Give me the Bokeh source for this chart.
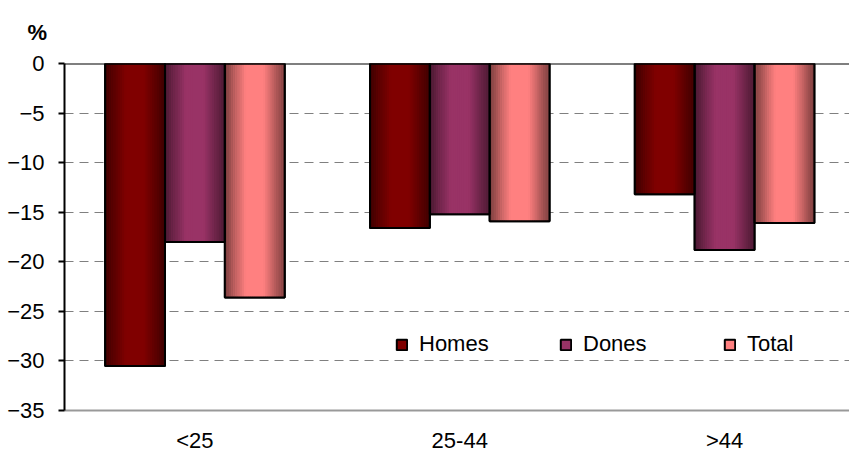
import numpy as np
from bokeh.plotting import figure
from bokeh.models import (Range1d, FixedTicker, Span, Legend, LegendItem,
                          ColumnDataSource)
from bokeh.embed import file_html
from bokeh.resources import INLINE

# ---- data ----
categories = ["<25", "25-44", ">44"]
homes = [-30.5, -16.6, -13.2]
dones = [-18.0, -15.2, -18.8]
total = [-23.6, -15.9, -16.1]
series_names = ["Homes", "Dones", "Total"]
series_colors = ["#800000", "#993366", "#ff8080"]
y_ticks = [0, -5, -10, -15, -20, -25, -30, -35]

series_values = [homes, dones, total]

FONT = "Liberation Sans"
bar_w = 0.226
N = 28
edge_k = 0.48


def shade(hexc, k):
    rgb = [int(hexc[i:i + 2], 16) for i in (1, 3, 5)]
    return "#%02x%02x%02x" % tuple(min(255, int(round(c * k))) for c in rgb)


x_pos = list(range(len(categories)))

p = figure(width=849, height=455,
           x_range=Range1d(-0.4925, 2.4717), y_range=Range1d(-35, 0),
           output_backend="svg", toolbar_location=None,
           min_border_left=64, min_border_right=0,
           min_border_top=63, min_border_bottom=45)
p.outline_line_color = None
p.background_fill_color = "white"

# unit label as title
p.title.text = "%"
p.title.align = "left"
p.title.offset = -37
p.title.standoff = 34
p.title.vertical_align = "top"
p.title.text_font = FONT
p.title.text_font_size = "22px"
p.title.text_font_style = "bold"
p.title.text_color = "black"

# grid
p.xgrid.visible = False
p.ygrid.grid_line_color = "#808080"
p.ygrid.grid_line_dash = "9 6"
p.ygrid.grid_line_width = 1

# y axis
p.yaxis.ticker = FixedTicker(ticks=y_ticks)
p.yaxis.axis_line_color = "black"
p.yaxis.axis_line_width = 2
p.yaxis.major_tick_out = 6
p.yaxis.major_tick_in = 0
p.yaxis.major_tick_line_width = 2
p.yaxis.minor_tick_out = 0
p.yaxis.minor_tick_in = 0
p.yaxis.major_label_standoff = 14
p.yaxis.major_label_text_font = FONT
p.yaxis.major_label_text_font_size = "22px"
p.yaxis.major_label_text_color = "black"

# x axis
p.xaxis.ticker = FixedTicker(ticks=x_pos)
p.xaxis.major_label_overrides = {i: c for i, c in zip(x_pos, categories)}
p.xaxis.axis_line_color = "#999999"
p.xaxis.axis_line_width = 2
p.xaxis.major_tick_out = 0
p.xaxis.major_tick_in = 0
p.xaxis.minor_tick_out = 0
p.xaxis.minor_tick_in = 0
p.xaxis.major_label_standoff = 17
p.xaxis.major_label_text_font = FONT
p.xaxis.major_label_text_font_size = "22px"
p.xaxis.major_label_text_color = "black"

# bars
legend_items = []
strip = {"x": [], "w": [], "bottom": [], "color": []}
for si, (name, vals, col) in enumerate(zip(series_names, series_values, series_colors)):
    off = (si - 1) * bar_w
    xs = [c + off for c in x_pos]
    base = p.vbar(x=xs, width=bar_w, top=0, bottom=vals, fill_color=col,
                  line_color="black", line_width=2)
    legend_items.append(LegendItem(label=name, renderers=[base]))
    for ci, v in zip(x_pos, vals):
        for i in range(N):
            t = (i + 0.5) / N
            d = abs(t - 0.5) / 0.5
            k = 1 - (1 - edge_k) * min(1.0, max(0.0, (d - 0.3) / 0.7))
            strip["x"].append(ci + off + (t - 0.5) * bar_w)
            strip["w"].append(bar_w / N * 1.15)
            strip["bottom"].append(v)
            strip["color"].append(shade(col, k))

src = ColumnDataSource(strip)
p.vbar(x="x", width="w", top=0, bottom="bottom", fill_color="color",
       line_color=None, source=src)

for si, vals in enumerate(series_values):
    off = (si - 1) * bar_w
    p.vbar(x=[c + off for c in x_pos], width=bar_w, top=0, bottom=vals,
           fill_color=None, line_color="black", line_width=2)

# zero line
p.add_layout(Span(location=0, dimension="width", line_color="black", line_width=2))

# legend
legend = Legend(items=legend_items, orientation="horizontal", location=(331, 53),
                padding=10, margin=0, spacing=65, glyph_width=13, glyph_height=13,
                label_standoff=11, label_width=75, label_height=20,
                label_text_font=FONT, label_text_font_size="22px",
                label_text_color="black",
                border_line_color=None, background_fill_color="white",
                background_fill_alpha=1.0)
p.add_layout(legend, "center")

open("out.html", "w").write(file_html(p, INLINE))
